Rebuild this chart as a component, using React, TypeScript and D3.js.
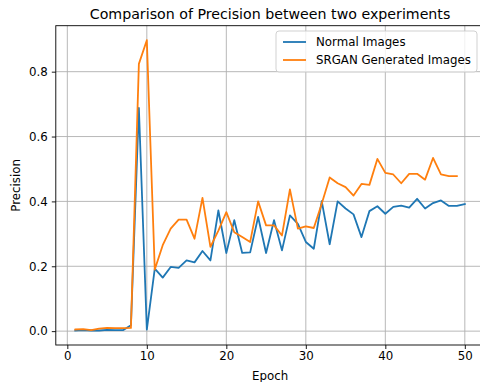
import { useEffect, useMemo, useRef } from "react";
import * as d3 from "d3";

const WIDTH = 480;
const HEIGHT = 382;
// plot area (right edge runs past the picture, as in the original)
const PLOT = { left: 55.8, right: 484.3, top: 25.7, bottom: 345 };

const normalPrecision = [
  0.002, 0.003, 0.002, 0.002, 0.004, 0.003, 0.003, 0.018, 0.688, 0.005,
  0.193, 0.165, 0.198, 0.195, 0.218, 0.212, 0.247, 0.218, 0.372, 0.241,
  0.342, 0.241, 0.243, 0.352, 0.241, 0.342, 0.249, 0.357, 0.331, 0.275,
  0.254, 0.401, 0.268, 0.4, 0.378, 0.36, 0.29, 0.37, 0.385, 0.362,
  0.383, 0.387, 0.381, 0.408, 0.378, 0.395, 0.403, 0.386, 0.386, 0.392,
];
const srganPrecision = [
  0.005, 0.006, 0.003, 0.008, 0.01, 0.009, 0.009, 0.01, 0.824, 0.897,
  0.19, 0.265, 0.316, 0.344, 0.344, 0.285, 0.411, 0.26, 0.31, 0.367,
  0.305, 0.29, 0.275, 0.4, 0.326, 0.326, 0.295, 0.437, 0.316, 0.323,
  0.318, 0.393, 0.474, 0.456, 0.444, 0.418, 0.454, 0.451, 0.531, 0.488,
  0.483, 0.456, 0.485, 0.485, 0.467, 0.534, 0.483, 0.478, 0.478,
];
const xTicks = [0, 10, 20, 30, 40, 50];
const yTicks = [0, 0.2, 0.4, 0.6, 0.8];
const seriesNames = ["Normal Images", "SRGAN Generated Images"];
const colors = ["#1f77b4", "#ff7f0e"];

const FONT = "DejaVu Sans, sans-serif";
const TICK_FONT = 11.8;

export default function App() {
  const svgRef = useRef<SVGSVGElement>(null);

  const series = [normalPrecision, srganPrecision].map((vals) =>
    vals.map((v, i) => ({ epoch: i + 1, value: v }))
  );

  const { xScale, yScale } = useMemo(() => {
    const xExt = [1, normalPrecision.length];
    const all = [...normalPrecision, ...srganPrecision];
    const yMin = d3.min(all)!;
    const yMax = d3.max(all)!;
    const xPad = (xExt[1] - xExt[0]) * 0.05;
    const yPad = (yMax - yMin) * 0.05;
    const xScale = d3
      .scaleLinear()
      .domain([xExt[0] - xPad, xExt[1] + xPad])
      .range([PLOT.left, PLOT.right]);
    const yScale = d3
      .scaleLinear()
      .domain([yMin - yPad, yMax + yPad])
      .range([PLOT.bottom, PLOT.top]);
    return { xScale, yScale };
  }, []);

  const line = d3
    .line<{ epoch: number; value: number }>()
    .x((d) => xScale(d.epoch))
    .y((d) => yScale(d.value));

  useEffect(() => {
    if (!svgRef.current) return;
    const svg = d3.select(svgRef.current);
    svg.selectAll(".axis").remove();

    svg
      .append("g")
      .attr("class", "axis")
      .attr("transform", `translate(0, ${PLOT.bottom})`)
      .call(
        d3.axisBottom(xScale).tickValues(xTicks).tickFormat(d3.format("d")).tickSizeOuter(0).tickSize(4).tickPadding(3)
      )
      .call((g) => g.select(".domain").remove())
      .call((g) => g.selectAll(".tick line").attr("stroke", "#000").attr("stroke-width", 0.9))
      .call((g) =>
        g.selectAll(".tick text").attr("fill", "#000").attr("font-size", TICK_FONT).attr("font-family", FONT)
      );

    svg
      .append("g")
      .attr("class", "axis")
      .attr("transform", `translate(${PLOT.left}, 0)`)
      .call(
        d3.axisLeft(yScale).tickValues(yTicks).tickFormat(d3.format(".1f")).tickSizeOuter(0).tickSize(4).tickPadding(4)
      )
      .call((g) => g.select(".domain").remove())
      .call((g) => g.selectAll(".tick line").attr("stroke", "#000").attr("stroke-width", 0.9))
      .call((g) =>
        g.selectAll(".tick text").attr("fill", "#000").attr("font-size", TICK_FONT).attr("font-family", FONT)
      );
  }, [xScale, yScale]);

  return (
    <svg
      ref={svgRef}
      width={WIDTH}
      height={HEIGHT}
      style={{ position: "absolute", left: 0, top: 0, background: "#fff" }}
    >
      <defs>
        <clipPath id="plot-clip">
          <rect x={PLOT.left} y={PLOT.top} width={PLOT.right - PLOT.left} height={PLOT.bottom - PLOT.top} />
        </clipPath>
      </defs>

      {/* grid */}
      <g stroke="#b0b0b0" strokeWidth={0.9}>
        {xTicks.map((t) => (
          <line key={"gx" + t} x1={xScale(t)} x2={xScale(t)} y1={PLOT.top} y2={PLOT.bottom} />
        ))}
        {yTicks.map((t) => (
          <line key={"gy" + t} x1={PLOT.left} x2={PLOT.right} y1={yScale(t)} y2={yScale(t)} />
        ))}
      </g>

      {/* lines */}
      <g clipPath="url(#plot-clip)">
        {series.map((s, i) => (
          <path
            key={seriesNames[i]}
            d={line(s) ?? ""}
            fill="none"
            stroke={colors[i]}
            strokeWidth={1.8}
            strokeLinejoin="round"
            strokeLinecap="square"
          />
        ))}
      </g>

      {/* frame */}
      <rect
        x={PLOT.left}
        y={PLOT.top}
        width={PLOT.right - PLOT.left}
        height={PLOT.bottom - PLOT.top}
        fill="none"
        stroke="#000"
        strokeWidth={0.9}
      />

      {/* title */}
      <text
        x={(PLOT.left + PLOT.right) / 2}
        y={19}
        textAnchor="middle"
        fontSize={14.2}
        fontFamily={FONT}
        fill="#000"
      >
        Comparison of Precision between two experiments
      </text>

      {/* axis labels */}
      <text x={(PLOT.left + PLOT.right) / 2} y={379.5} textAnchor="middle" fontSize={TICK_FONT} fontFamily={FONT}>
        Epoch
      </text>
      <text
        transform={`translate(19.5, ${(PLOT.top + PLOT.bottom) / 2}) rotate(-90)`}
        textAnchor="middle"
        fontSize={TICK_FONT}
        fontFamily={FONT}
      >
        Precision
      </text>

      {/* legend */}
      <g>
        <rect
          x={276}
          y={31}
          width={201}
          height={41}
          rx={3}
          fill="#fff"
          fillOpacity={0.8}
          stroke="#cccccc"
          strokeWidth={0.9}
        />
        {seriesNames.map((name, i) => (
          <g key={name} transform={`translate(283, ${42 + i * 18})`}>
            <line x1={0} x2={23} y1={0} y2={0} stroke={colors[i]} strokeWidth={1.8} />
            <text x={33} y={4.2} fontSize={TICK_FONT} fontFamily={FONT} fill="#000">
              {name}
            </text>
          </g>
        ))}
      </g>
    </svg>
  );
}
